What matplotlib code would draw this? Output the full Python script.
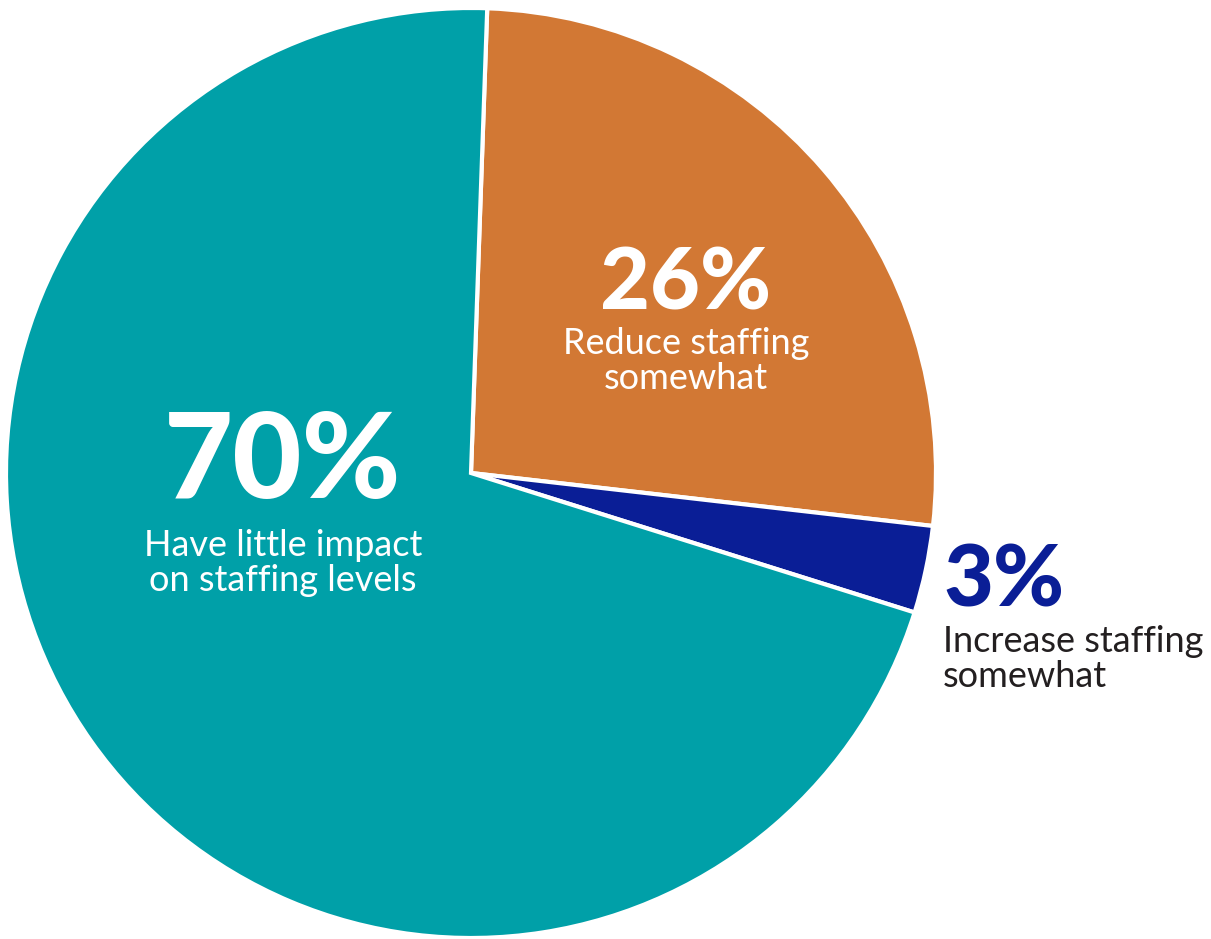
import matplotlib.pyplot as plt

# Survey shares (they add up to 99 because of rounding)
labels = ["Reduce staffing\nsomewhat", "Increase staffing\nsomewhat", "Have little impact\non staffing levels"]
shares = [26, 3, 70]
colors = ["#D27834", "#0A1E96", "#00A0A8"]

W, H = 1211, 939
fig = plt.figure(figsize=(W / 100, H / 100), dpi=100)
ax = fig.add_axes([0, 0, 1, 1])

cx, cy, r = 471, H - 473, 465
wedges, _ = ax.pie(shares, colors=colors, startangle=88, counterclock=False,
                   center=(cx, cy), radius=r, frame=True,
                   wedgeprops=dict(edgecolor="white", linewidth=3))
ax.set_xlim(0, W)
ax.set_ylim(0, H)
ax.axis("off")

font = ["Lato", "DejaVu Sans"]
big = dict(fontweight="black", va="center", family=font)
small = dict(fontsize=26, va="center", linespacing=1.08, family=font)

# orange slice
ax.text(686, H - 285, f"{shares[0]}%", color="white", fontsize=62, ha="center", **big)
ax.text(686, H - 361, labels[0], color="white", ha="center", **small)

# teal slice
ax.text(283, H - 464, f"{shares[2]}%", color="white", fontsize=86, ha="center", **big)
ax.text(283, H - 563, labels[2], color="white", ha="center", **small)

# navy slice, label outside the pie
ax.text(943, H - 582, f"{shares[1]}%", color=colors[1], fontsize=62, ha="left", **big)
ax.text(943, H - 659, labels[1], color="#231F20", ha="left", **small)

fig.savefig("out.png", dpi=100, facecolor="white")
